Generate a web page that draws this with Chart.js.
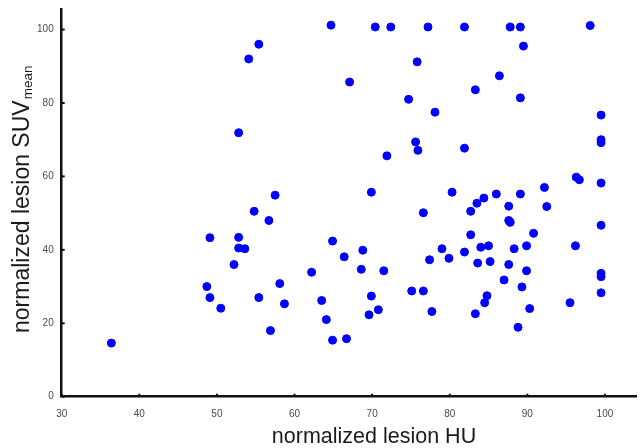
<!DOCTYPE html>
<html>
<head>
<meta charset="utf-8">
<script src="https://cdn.jsdelivr.net/npm/chart.js@4/dist/chart.umd.min.js"></script>
<style>
html,body{margin:0;padding:0;background:#fff;}
#wrap{width:641px;height:448px;position:relative;}
</style>
</head>
<body>
<div id="wrap"><canvas id="c" width="641" height="448"></canvas></div>
<script>
// normalized lesion HU (x) and normalized lesion SUVmean (y)
const hu = [
  36.4, 48.7, 49.1, 49.1, 50.5, 52.2, 52.8, 52.8, 53.6, 52.8,
  54.1, 55.4, 54.8, 55.4, 56.7, 56.9, 57.5, 58.1, 58.7, 62.2,
  63.5, 64.1, 64.7, 64.9, 64.9, 66.4, 66.7, 67.1, 68.6, 68.8,
  69.9, 69.9, 69.6, 70.4, 70.8, 71.5, 71.9, 72.4, 74.7, 75.1,
  75.6, 75.9, 75.8, 76.6, 76.6, 77.2, 77.4, 77.7, 78.1, 79.0,
  79.9, 80.3, 81.9, 81.9, 81.9, 82.7, 82.7, 83.3, 83.3, 83.5,
  83.6, 84.0, 84.4, 84.5, 84.8, 85.0, 85.2, 86.0, 86.4, 87.0,
  87.6, 87.6, 87.8, 87.6, 87.8, 88.3, 88.8, 89.1, 89.1, 89.1,
  89.3, 89.5, 89.9, 89.9, 90.3, 90.8, 92.2, 92.5, 95.5, 96.2,
  96.3, 96.7, 98.1, 99.5, 99.5, 99.5, 99.5, 99.5, 99.5, 99.5,
  99.5
];
const suv = [
  14.6, 30.0, 27.0, 43.3, 24.1, 36.0, 40.5, 43.4, 40.3, 71.9,
  92.0, 96.0, 50.5, 27.0, 48.0, 18.0, 54.9, 30.8, 25.3, 33.9,
  26.2, 21.0, 101.2, 42.4, 15.4, 38.1, 15.8, 85.7, 34.7, 39.9,
  55.7, 27.4, 22.3, 100.7, 23.7, 34.3, 65.6, 100.7, 81.0, 28.8,
  69.4, 67.1, 91.2, 50.1, 28.8, 100.7, 37.3, 23.2, 77.5, 40.3,
  37.7, 55.7, 100.7, 67.7, 39.4, 50.5, 44.1, 83.6, 22.6, 52.7,
  36.4, 40.7, 54.1, 25.6, 27.5, 41.1, 36.8, 55.2, 87.4, 31.8,
  51.9, 48.0, 47.5, 36.0, 100.7, 40.3, 18.9, 100.7, 81.4, 55.2,
  29.9, 95.5, 41.1, 34.3, 24.0, 44.5, 57.0, 51.8, 25.6, 41.1,
  59.8, 59.1, 101.1, 76.7, 70.0, 69.2, 58.2, 46.7, 33.6, 32.7,
  28.3
];
const xTickValues = [30, 40, 50, 60, 70, 80, 90, 100];
const yTickValues = [0, 20, 40, 60, 80, 100];
const xTitle = 'normalized lesion HU';
const yTitleMain = 'normalized lesion SUV';
const yTitleSub = 'mean';

const points = hu.map((x, i) => ({x: x, y: suv[i]}));

const FONT = '"Liberation Sans", Arial, Helvetica, sans-serif';

const decor = {
  id: 'decor',
  afterDraw(chart) {
    const ctx = chart.ctx;
    const xs = chart.scales.x, ys = chart.scales.y;
    const a = chart.chartArea;
    ctx.save();
    // inward tick marks
    ctx.strokeStyle = '#111';
    ctx.lineWidth = 2;
    xTickValues.forEach(v => {
      const px = xs.getPixelForValue(v);
      ctx.beginPath(); ctx.moveTo(px, a.bottom); ctx.lineTo(px, a.bottom - 3); ctx.stroke();
    });
    yTickValues.forEach(v => {
      const py = ys.getPixelForValue(v);
      ctx.beginPath(); ctx.moveTo(a.left, py); ctx.lineTo(a.left + 3, py); ctx.stroke();
    });
    // x title
    ctx.fillStyle = '#1a1a1a';
    ctx.font = '21.5px ' + FONT;
    ctx.textAlign = 'center';
    ctx.textBaseline = 'alphabetic';
    ctx.fillText(xTitle, 374, 442.5);
    // y title with subscript
    ctx.translate(28.5, 333);
    ctx.rotate(-Math.PI / 2);
    ctx.textAlign = 'left';
    ctx.font = '23px ' + FONT;
    ctx.fillText(yTitleMain, 0, 0);
    const w = ctx.measureText(yTitleMain).width;
    ctx.font = '13.5px ' + FONT;
    ctx.fillText(yTitleSub, w + 1, 3.5);
    ctx.restore();
  }
};

new Chart(document.getElementById('c'), {
  type: 'scatter',
  data: {
    datasets: [{
      data: points,
      backgroundColor: '#0000ff',
      borderColor: '#0000ff',
      borderWidth: 1,
      pointRadius: 4,
      pointHoverRadius: 4
    }]
  },
  options: {
    responsive: false,
    animation: false,
    events: [],
    layout: {padding: {top: 9, right: 0, left: 0, bottom: 0}},
    plugins: {legend: {display: false}, tooltip: {enabled: false}},
    scales: {
      x: {
        type: 'linear',
        min: 30, max: 104,
        afterFit(s) { s.height = 51.3; s.paddingLeft = 0; s.paddingRight = 0; },
        afterBuildTicks(s) { s.ticks = xTickValues.map(v => ({value: v})); },
        ticks: {
          font: {family: FONT, size: 10},
          color: '#4a4a4a',
          padding: 12,
          maxRotation: 0,
          autoSkip: false,
          includeBounds: false
        },
        grid: {display: false, drawTicks: false},
        border: {display: true, color: '#111', width: 2.5}
      },
      y: {
        type: 'linear',
        min: 0, max: 105.6,
        afterFit(s) { s.width = 61.7; s.paddingTop = 0; s.paddingBottom = 0; },
        afterBuildTicks(s) { s.ticks = yTickValues.map(v => ({value: v})); },
        ticks: {
          font: {family: FONT, size: 10},
          color: '#4a4a4a',
          padding: 8,
          autoSkip: false,
          includeBounds: false
        },
        grid: {display: false, drawTicks: false},
        border: {display: true, color: '#111', width: 2.5}
      }
    }
  },
  plugins: [decor]
});
</script>
</body>
</html>
